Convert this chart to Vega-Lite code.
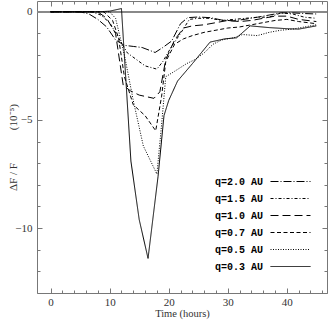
{
  "$schema": "https://vega.github.io/schema/vega-lite/v6.json",
  "width": 290,
  "height": 292,
  "autosize": {"type": "none"},
  "padding": {"left": 37, "top": 1, "right": 4, "bottom": 28},
  "config": {
    "view": {"stroke": "#777", "strokeWidth": 1},
    "font": "Liberation Serif",
    "axis": {
      "domain": false, "grid": false, "tickColor": "#777", "labelColor": "#333",
      "titleColor": "#333", "labelFont": "Liberation Serif", "labelFontSize": 11,
      "titleFont": "Liberation Serif", "titleFontSize": 11, "titleFontWeight": "normal"
    }
  },
  "data": {"values": [
    {"q": "q=2.0 AU", "t": 0, "v": 0}, {"q": "q=2.0 AU", "t": 5, "v": 0}, {"q": "q=2.0 AU", "t": 6.5, "v": -0.1}, {"q": "q=2.0 AU", "t": 8, "v": -0.35}, {"q": "q=2.0 AU", "t": 9.5, "v": -0.7}, {"q": "q=2.0 AU", "t": 11, "v": -1.3}, {"q": "q=2.0 AU", "t": 12.5, "v": -1.55}, {"q": "q=2.0 AU", "t": 14, "v": -1.6}, {"q": "q=2.0 AU", "t": 15.5, "v": -1.65}, {"q": "q=2.0 AU", "t": 17.7, "v": -1.88}, {"q": "q=2.0 AU", "t": 19, "v": -1.65}, {"q": "q=2.0 AU", "t": 20.5, "v": -1.35}, {"q": "q=2.0 AU", "t": 22, "v": -0.55}, {"q": "q=2.0 AU", "t": 23.2, "v": -0.27}, {"q": "q=2.0 AU", "t": 25, "v": -0.24}, {"q": "q=2.0 AU", "t": 27, "v": -0.27}, {"q": "q=2.0 AU", "t": 29, "v": -0.38}, {"q": "q=2.0 AU", "t": 31, "v": -0.42}, {"q": "q=2.0 AU", "t": 33, "v": -0.34}, {"q": "q=2.0 AU", "t": 35, "v": -0.25}, {"q": "q=2.0 AU", "t": 37, "v": -0.15}, {"q": "q=2.0 AU", "t": 39, "v": -0.05}, {"q": "q=2.0 AU", "t": 41, "v": -0.05}, {"q": "q=2.0 AU", "t": 43, "v": -0.08}, {"q": "q=2.0 AU", "t": 45, "v": -0.1},
    {"q": "q=1.5 AU", "t": 0, "v": 0}, {"q": "q=1.5 AU", "t": 7, "v": 0}, {"q": "q=1.5 AU", "t": 8.5, "v": -0.15}, {"q": "q=1.5 AU", "t": 10, "v": -0.5}, {"q": "q=1.5 AU", "t": 11.5, "v": -1.2}, {"q": "q=1.5 AU", "t": 13, "v": -1.9}, {"q": "q=1.5 AU", "t": 14.5, "v": -2.2}, {"q": "q=1.5 AU", "t": 16, "v": -2.5}, {"q": "q=1.5 AU", "t": 18, "v": -2.65}, {"q": "q=1.5 AU", "t": 19, "v": -2.3}, {"q": "q=1.5 AU", "t": 20.5, "v": -1.6}, {"q": "q=1.5 AU", "t": 22, "v": -1.0}, {"q": "q=1.5 AU", "t": 23.5, "v": -0.35}, {"q": "q=1.5 AU", "t": 25, "v": -0.3}, {"q": "q=1.5 AU", "t": 27, "v": -0.3}, {"q": "q=1.5 AU", "t": 29, "v": -0.4}, {"q": "q=1.5 AU", "t": 31, "v": -0.35}, {"q": "q=1.5 AU", "t": 33, "v": -0.3}, {"q": "q=1.5 AU", "t": 35, "v": -0.25}, {"q": "q=1.5 AU", "t": 37, "v": -0.25}, {"q": "q=1.5 AU", "t": 39, "v": -0.05}, {"q": "q=1.5 AU", "t": 41, "v": -0.1}, {"q": "q=1.5 AU", "t": 43, "v": -0.25}, {"q": "q=1.5 AU", "t": 45, "v": -0.3},
    {"q": "q=1.0 AU", "t": 0, "v": 0}, {"q": "q=1.0 AU", "t": 8, "v": 0}, {"q": "q=1.0 AU", "t": 9.5, "v": -0.3}, {"q": "q=1.0 AU", "t": 11, "v": -1.0}, {"q": "q=1.0 AU", "t": 12.3, "v": -3.4}, {"q": "q=1.0 AU", "t": 13.5, "v": -3.65}, {"q": "q=1.0 AU", "t": 15, "v": -3.85}, {"q": "q=1.0 AU", "t": 17.5, "v": -4.0}, {"q": "q=1.0 AU", "t": 18.5, "v": -3.7}, {"q": "q=1.0 AU", "t": 19.5, "v": -2.2}, {"q": "q=1.0 AU", "t": 21, "v": -1.3}, {"q": "q=1.0 AU", "t": 22.5, "v": -0.75}, {"q": "q=1.0 AU", "t": 24, "v": -0.65}, {"q": "q=1.0 AU", "t": 26, "v": -0.6}, {"q": "q=1.0 AU", "t": 28, "v": -0.5}, {"q": "q=1.0 AU", "t": 30, "v": -0.4}, {"q": "q=1.0 AU", "t": 32, "v": -0.45}, {"q": "q=1.0 AU", "t": 34, "v": -0.4}, {"q": "q=1.0 AU", "t": 36, "v": -0.3}, {"q": "q=1.0 AU", "t": 38, "v": -0.2}, {"q": "q=1.0 AU", "t": 40, "v": -0.2}, {"q": "q=1.0 AU", "t": 42, "v": -0.35}, {"q": "q=1.0 AU", "t": 45, "v": -0.45},
    {"q": "q=0.7 AU", "t": 0, "v": 0}, {"q": "q=0.7 AU", "t": 9, "v": 0}, {"q": "q=0.7 AU", "t": 10.5, "v": -0.4}, {"q": "q=0.7 AU", "t": 11.5, "v": -1.2}, {"q": "q=0.7 AU", "t": 12.5, "v": -3.0}, {"q": "q=0.7 AU", "t": 14, "v": -4.3}, {"q": "q=0.7 AU", "t": 16, "v": -4.8}, {"q": "q=0.7 AU", "t": 17.8, "v": -5.5}, {"q": "q=0.7 AU", "t": 18.8, "v": -3.9}, {"q": "q=0.7 AU", "t": 19.5, "v": -2.3}, {"q": "q=0.7 AU", "t": 21, "v": -1.5}, {"q": "q=0.7 AU", "t": 22.5, "v": -1.25}, {"q": "q=0.7 AU", "t": 24, "v": -1.1}, {"q": "q=0.7 AU", "t": 26, "v": -0.95}, {"q": "q=0.7 AU", "t": 28, "v": -0.85}, {"q": "q=0.7 AU", "t": 30, "v": -0.75}, {"q": "q=0.7 AU", "t": 32, "v": -0.7}, {"q": "q=0.7 AU", "t": 34, "v": -0.6}, {"q": "q=0.7 AU", "t": 36, "v": -0.5}, {"q": "q=0.7 AU", "t": 38, "v": -0.4}, {"q": "q=0.7 AU", "t": 40, "v": -0.35}, {"q": "q=0.7 AU", "t": 42, "v": -0.45}, {"q": "q=0.7 AU", "t": 45, "v": -0.55},
    {"q": "q=0.5 AU", "t": 0, "v": 0}, {"q": "q=0.5 AU", "t": 10, "v": 0}, {"q": "q=0.5 AU", "t": 11, "v": -0.3}, {"q": "q=0.5 AU", "t": 12.5, "v": -2.0}, {"q": "q=0.5 AU", "t": 14, "v": -4.1}, {"q": "q=0.5 AU", "t": 15.7, "v": -6.2}, {"q": "q=0.5 AU", "t": 18, "v": -7.5}, {"q": "q=0.5 AU", "t": 18.8, "v": -5.2}, {"q": "q=0.5 AU", "t": 19.5, "v": -3.0}, {"q": "q=0.5 AU", "t": 21, "v": -2.75}, {"q": "q=0.5 AU", "t": 23, "v": -2.4}, {"q": "q=0.5 AU", "t": 24.5, "v": -2.2}, {"q": "q=0.5 AU", "t": 26, "v": -1.9}, {"q": "q=0.5 AU", "t": 27.5, "v": -1.5}, {"q": "q=0.5 AU", "t": 29, "v": -1.3}, {"q": "q=0.5 AU", "t": 31, "v": -1.2}, {"q": "q=0.5 AU", "t": 32.5, "v": -1.05}, {"q": "q=0.5 AU", "t": 35, "v": -1.1}, {"q": "q=0.5 AU", "t": 37, "v": -0.95}, {"q": "q=0.5 AU", "t": 39, "v": -0.85}, {"q": "q=0.5 AU", "t": 41, "v": -0.8}, {"q": "q=0.5 AU", "t": 43, "v": -0.7}, {"q": "q=0.5 AU", "t": 45, "v": -0.6},
    {"q": "q=0.3 AU", "t": 0, "v": 0}, {"q": "q=0.3 AU", "t": 8, "v": 0}, {"q": "q=0.3 AU", "t": 10, "v": 0.03}, {"q": "q=0.3 AU", "t": 12, "v": 0.15}, {"q": "q=0.3 AU", "t": 13.6, "v": -6.9}, {"q": "q=0.3 AU", "t": 15, "v": -9.6}, {"q": "q=0.3 AU", "t": 16.5, "v": -11.4}, {"q": "q=0.3 AU", "t": 18.2, "v": -7.6}, {"q": "q=0.3 AU", "t": 19.2, "v": -4.8}, {"q": "q=0.3 AU", "t": 20, "v": -4.1}, {"q": "q=0.3 AU", "t": 21.5, "v": -3.2}, {"q": "q=0.3 AU", "t": 24, "v": -2.4}, {"q": "q=0.3 AU", "t": 27, "v": -1.4}, {"q": "q=0.3 AU", "t": 29.5, "v": -1.25}, {"q": "q=0.3 AU", "t": 31.5, "v": -1.2}, {"q": "q=0.3 AU", "t": 33.8, "v": -0.65}, {"q": "q=0.3 AU", "t": 37, "v": -0.73}, {"q": "q=0.3 AU", "t": 40, "v": -0.78}, {"q": "q=0.3 AU", "t": 42, "v": -0.8}, {"q": "q=0.3 AU", "t": 45, "v": -0.65}
  ]},
  "resolve": {"axis": {"x": "independent", "y": "independent"}},
  "layer": [
    {
      "mark": {"type": "rule", "color": "#888", "strokeWidth": 1},
      "encoding": {"y": {"datum": 0, "type": "quantitative", "axis": null, "scale": {"domain": [-13, 0.5], "nice": false, "zero": false}}}
    },
    {
      "mark": {"type": "line", "color": "black", "strokeWidth": 1},
      "encoding": {
        "x": {"field": "t", "type": "quantitative",
          "scale": {"domain": [-2.3, 46.8], "nice": false, "zero": false},
          "axis": {"orient": "bottom", "title": "Time (hours)", "values": [0,2,4,6,8,10,12,14,16,18,20,22,24,26,28,30,32,34,36,38,40,42,44,46],
            "labelExpr": "datum.value % 10 === 0 ? datum.label : ''",
            "tickSize": {"condition": {"test": "datum.value % 10 === 0", "value": -5}, "value": -3},
            "labelPadding": 8, "titlePadding": 1, "titleFontSize": 10.5}},
        "y": {"field": "v", "type": "quantitative",
          "scale": {"domain": [-13, 0.5], "nice": false, "zero": false},
          "axis": {"orient": "left", "title": "ΔF / F\u2003\u2003\u2003(10⁻⁵)", "values": [0,-1,-2,-3,-4,-5,-6,-7,-8,-9,-10,-11,-12,-13],
            "labelExpr": "datum.value % 5 === 0 ? datum.label : ''",
            "tickSize": {"condition": {"test": "datum.value % 5 === 0", "value": -5}, "value": -3},
            "labelPadding": 10, "titlePadding": -4}},
        "strokeDash": {"field": "q", "type": "nominal",
          "scale": {"domain": ["q=2.0 AU", "q=1.5 AU", "q=1.0 AU", "q=0.7 AU", "q=0.5 AU", "q=0.3 AU"],
            "range": [[8,2,1,2],[3,2,1,2],[8,4],[4,2.5],[1,1.5],[1,0]]},
          "legend": {"orient": "none", "legendX": 248, "legendY": 175, "title": null, "symbolType": "M-4,0H4", "symbolSize": 100,
            "symbolStrokeColor": "black", "symbolStrokeWidth": 1, "labelAlign": "right", "labelOffset": -33,
            "labelFont": "Liberation Mono", "labelFontWeight": "bold", "labelFontSize": 10, "labelColor": "black", "padding": 0, "rowPadding": 6}}
      }
    },
    {
      "mark": {"type": "point", "opacity": 0},
      "encoding": {
        "x": {"field": "t", "type": "quantitative",
          "axis": {"orient": "top", "title": null, "labels": false, "values": [0,2,4,6,8,10,12,14,16,18,20,22,24,26,28,30,32,34,36,38,40,42,44,46],
            "tickSize": {"condition": {"test": "datum.value % 10 === 0", "value": -5}, "value": -3}}},
        "y": {"field": "v", "type": "quantitative",
          "axis": {"orient": "right", "title": null, "labels": false, "values": [0,-1,-2,-3,-4,-5,-6,-7,-8,-9,-10,-11,-12,-13],
            "tickSize": {"condition": {"test": "datum.value % 5 === 0", "value": -5}, "value": -3}}}
      }
    }
  ]
}
